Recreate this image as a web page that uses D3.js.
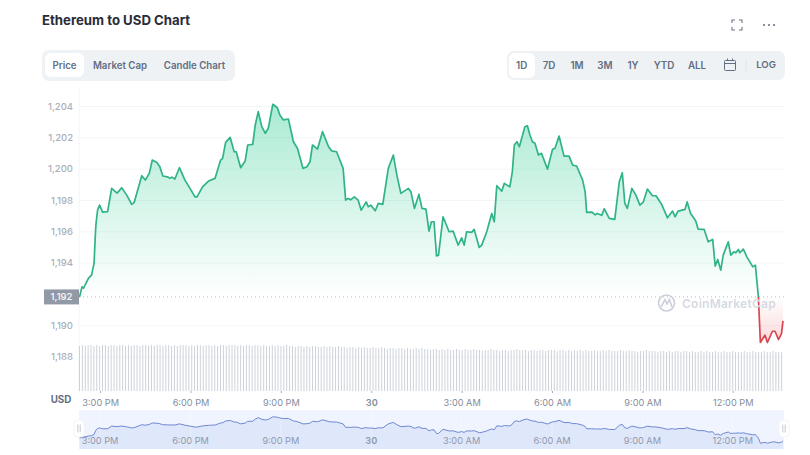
<!DOCTYPE html>
<html>
<head>
<meta charset="utf-8">
<title>Ethereum to USD Chart</title>
<script src="https://cdn.jsdelivr.net/npm/d3@7"></script>
<style>
  html, body { margin: 0; padding: 0; background: #fff; overflow: hidden; }
  svg { display: block; font-family: Inter, "Noto Sans", sans-serif; }
  .axis .domain { display: none; }
</style>
</head>
<body>
<svg id="chart" width="810" height="455"></svg>
<script>
// ── DATA ─────────────────────────────────────────────────────────────────────
const title = 'Ethereum to USD Chart';
const chartTabs = ['Price', 'Market Cap', 'Candle Chart'];
const rangeTabs = ['1D', '7D', '1M', '3M', '1Y', 'YTD', 'ALL'];

// minutes after 3:00 PM
const minutes = [
  -41,-36,-33,-23,-17,-12,-9,-8,-5,-1,5,15,23,34,43,53,63,68,83,90,98,104,113,119,125,134,139,143,149,158,
  169,179,189,193,204,216,229,240,244,250,259,267,271,280,289,294,304,309,315,322,329,335,344,353,358,365,375,385,393,404,
  412,418,423,433,443,455,461,471,484,489,494,499,506,514,520,530,534,539,548,554,563,574,584,591,599,614,619,626,635,641,
  649,655,660,665,670,674,683,695,703,713,720,725,730,740,745,755,760,770,780,785,790,800,805,816,821,825,830,835,846,851,
  856,861,866,873,879,891,901,906,914,924,934,941,949,961,966,969,979,986,990,999,1004,1014,1025,1034,1040,1045,1050,1059,1067,1075,
  1082,1090,1100,1107,1118,1130,1140,1145,1151,1165,1169,1176,1186,1191,1203,1211,1220,1225,1230,1236,1241,1251,1256,1262,1266,1271,1274,1281,1288,1300,
  1305,1311,1315,1324,1329,1339,1344,1351,1357,1360
];
const prices = [
  1191.81,1192.45,1192.37,1193.01,1193.20,1193.97,1196.08,1196.52,1197.35,1197.67,1197.23,1197.25,1198.74,1198.44,1198.78,1198.31,1197.72,1197.85,1199.55,1199.27,1199.70,1200.55,1200.40,1200.12,1199.53,1199.48,1199.38,1199.46,1199.34,1200.06,
  1199.27,1198.74,1198.20,1198.20,1198.84,1199.21,1199.38,1200.55,1200.66,1201.68,1202.00,1201.08,1201.08,1200.06,1200.49,1201.51,1201.55,1202.79,1203.64,1202.68,1202.26,1202.58,1204.11,1203.89,1203.42,1203.11,1203.17,1201.72,1201.30,1200.02,
  1200.12,1200.44,1201.51,1201.25,1202.36,1201.40,1201.14,1201.08,1200.02,1197.99,1198.10,1198.01,1198.20,1197.99,1197.35,1197.88,1197.57,1197.67,1197.31,1197.78,1197.72,1200.02,1200.87,1199.59,1198.42,1198.74,1198.52,1197.46,1198.36,1197.46,
  1197.42,1196.01,1196.61,1196.61,1194.43,1194.48,1196.93,1195.97,1196.01,1195.12,1195.58,1195.12,1195.97,1195.93,1196.12,1194.97,1195.12,1195.97,1197.14,1196.61,1198.91,1198.57,1199.06,1198.84,1199.80,1201.51,1201.72,1201.40,1202.68,1202.74,
  1202.15,1201.72,1201.62,1200.87,1200.98,1199.97,1201.23,1201.30,1202.08,1200.80,1200.80,1200.23,1200.17,1199.27,1198.52,1197.21,1197.23,1197.05,1197.14,1197.02,1197.44,1196.82,1196.76,1199.16,1199.74,1197.78,1197.46,1198.74,1198.31,1197.67,
  1197.88,1198.70,1198.27,1198.27,1197.74,1196.86,1197.29,1196.93,1197.29,1197.40,1197.88,1197.14,1196.67,1196.14,1196.12,1195.33,1195.48,1193.78,1194.20,1193.52,1194.48,1195.33,1194.48,1194.69,1194.63,1194.84,1194.63,1194.86,1194.37,1193.73,
  1193.84,1191.81,1188.90,1189.37,1188.90,1189.62,1189.62,1189.09,1189.47,1190.28
];
const openPrice = 1191.81;

// one bar per period, relative volume
const volumes = [
  45,46,45,46,46,45,46,45,46,46,45,46,46,45,46,46,45,46,45,46,46,45,46,46,45,
  46,45,46,46,45,46,46,45,46,45,46,46,46,45,46,45,46,46,45,46,46,45,46,45,46,
  46,45,46,46,46,45,46,45,46,46,45,46,46,45,46,45,45,46,45,46,45,45,46,45,45,
  44,45,45,44,45,44,45,45,44,44,45,44,45,44,44,45,44,44,43,44,44,43,44,43,44,
  43,43,44,43,43,44,43,42,43,43,42,43,43,42,43,42,42,43,42,43,42,42,41,42,42,
  41,42,41,42,41,41,42,41,41,42,41,41,42,41,41,40,41,41,42,41,41,40,41,41,40,
  41,41,42,41,41,41,40,41,41,40,41,41,40,41,41,41,40,41,41,40,41,40,41,40,41,
  40,41,40,40,41,40,40,41,40,41,40,40,40,41,40,40,41,40,40,39,40,40,41,40,40,
  40,39,40,40,39,40,39,40,40,39,40,40,39,40,39,39,40,39,40,39,39,40,39,39,40,
  39,39,40,39,39,39,40,39,39,40,39,39,39,40,39,39,40,39,39,39
];

const yTicks = [1188, 1190, 1194, 1196, 1198, 1200, 1202, 1204];
const xTickMinutes = [0, 180, 360, 540, 720, 900, 1080, 1260];
const xTickLabels = ['3:00 PM', '6:00 PM', '9:00 PM', '30', '3:00 AM', '6:00 AM', '9:00 AM', '12:00 PM'];

// ── SETUP ────────────────────────────────────────────────────────────────────
const svg = d3.select('#chart');
const defs = svg.append('defs');

const x = d3.scaleLinear().domain([-42, 1362]).range([79, 784]);
const y = d3.scaleLinear().domain([1188, 1204]).range([356.6, 106]);
const yVol = d3.scaleLinear().domain([0, 46]).range([391, 345]);
const yMini = d3.scaleLinear().domain([1189, 1204]).range([443, 417]);
const xVol = d3.scaleBand().domain(d3.range(volumes.length)).range([79, 784]);

const points = minutes.map((m, i) => ({ m, p: prices[i] }));
const baseY = y(openPrice);
const GREEN = '#16c784', LINE_GREEN = '#2fb387', RED = '#ea3943';

// ── GRADIENTS ────────────────────────────────────────────────────────────────
const gradArea = defs.append('linearGradient').attr('id', 'area-fill')
  .attr('gradientUnits', 'userSpaceOnUse')
  .attr('x1', 0).attr('x2', 0).attr('y1', y(1204)).attr('y2', y(1188.9));
const split = (baseY - y(1204)) / (y(1188.9) - y(1204));
gradArea.append('stop').attr('offset', 0).attr('stop-color', GREEN).attr('stop-opacity', 0.36);
gradArea.append('stop').attr('offset', split).attr('stop-color', GREEN).attr('stop-opacity', 0);
gradArea.append('stop').attr('offset', split).attr('stop-color', RED).attr('stop-opacity', 0);
gradArea.append('stop').attr('offset', 1).attr('stop-color', RED).attr('stop-opacity', 0.2);

const gradLine = defs.append('linearGradient').attr('id', 'line-stroke')
  .attr('gradientUnits', 'userSpaceOnUse')
  .attr('x1', 0).attr('x2', 0).attr('y1', y(1204)).attr('y2', y(1188.9));
gradLine.append('stop').attr('offset', split).attr('stop-color', LINE_GREEN);
gradLine.append('stop').attr('offset', split).attr('stop-color', '#d9454f');

// ── HEADER ───────────────────────────────────────────────────────────────────
svg.append('text').attr('x', 42).attr('y', 24.5)
  .attr('font-size', 13.2).attr('font-weight', 700).attr('fill', '#2a2d38').text(title);

// fullscreen + more icons
const fs = svg.append('g').attr('fill', 'none').attr('stroke', '#6d7789').attr('stroke-width', 1.1);
[[732, 20, 1, 1], [742, 20, -1, 1], [732, 30, 1, -1], [742, 30, -1, -1]].forEach(([cx, cy, dx, dy]) => {
  fs.append('path').attr('d', `M${cx},${cy + dy * 3}V${cy}H${cx + dx * 3}`);
});
[764, 769, 774].forEach(cx => {
  svg.append('circle').attr('cx', cx).attr('cy', 25).attr('r', 1.1).attr('fill', '#6d7789');
});

// chart type tabs
svg.append('rect').attr('x', 42).attr('y', 50).attr('width', 193).attr('height', 31).attr('rx', 7).attr('fill', '#eff2f5');
svg.append('rect').attr('x', 45).attr('y', 53).attr('width', 39).attr('height', 24).attr('rx', 6).attr('fill', '#fff');
const chartTabX = [64.5, 120, 194.5];
chartTabs.forEach((t, i) => {
  svg.append('text').attr('x', chartTabX[i]).attr('y', 69).attr('text-anchor', 'middle')
    .attr('font-size', 9.7).attr('font-weight', 600).attr('fill', '#626e83').text(t);
});

// range tabs
svg.append('rect').attr('x', 507).attr('y', 51).attr('width', 278).attr('height', 29).attr('rx', 7).attr('fill', '#eff2f5');
svg.append('rect').attr('x', 509).attr('y', 53).attr('width', 26).attr('height', 25).attr('rx', 6).attr('fill', '#fff');
const rangeTabX = [521.7, 549, 577, 605, 633, 664, 697];
rangeTabs.forEach((t, i) => {
  svg.append('text').attr('x', rangeTabX[i]).attr('y', 69).attr('text-anchor', 'middle')
    .attr('font-size', 9.8).attr('font-weight', 600).attr('fill', '#626e83').text(t);
});
const cal = svg.append('g').attr('fill', 'none').attr('stroke', '#626e83').attr('stroke-width', 1);
cal.append('rect').attr('x', 724.5).attr('y', 60.5).attr('width', 11).attr('height', 10).attr('rx', 1);
cal.append('path').attr('d', 'M724.5,63.5H735.5M727.5,58.5V60.5M732.5,58.5V60.5');
svg.append('line').attr('x1', 746).attr('x2', 746).attr('y1', 60).attr('y2', 71).attr('stroke', '#dfe3ea');
svg.append('text').attr('x', 766).attr('y', 68).attr('text-anchor', 'middle')
  .attr('font-size', 9.6).attr('font-weight', 600).attr('fill', '#626e83').text('LOG');

// ── GRID + Y AXIS ────────────────────────────────────────────────────────────
svg.append('line').attr('x1', 79).attr('x2', 79).attr('y1', 88).attr('y2', 392).attr('stroke', '#f3f4f7');
const gy = svg.append('g').attr('class', 'axis')
  .attr('transform', 'translate(79,0)')
  .call(d3.axisLeft(y).tickValues(yTicks).tickSize(-705).tickPadding(6).tickFormat(d3.format(',')));
gy.selectAll('.tick line').attr('stroke', '#f4f5f8');
gy.selectAll('.tick text').attr('font-size', 9.5).attr('font-weight', 500).attr('fill', '#aab0bc')
  .attr('font-family', 'Inter, "Noto Sans", sans-serif');

// ── VOLUME ───────────────────────────────────────────────────────────────────
svg.append('g').selectAll('rect').data(volumes).join('rect')
  .attr('x', (d, i) => xVol(i))
  .attr('y', d => yVol(d))
  .attr('width', 1)
  .attr('height', d => yVol(0) - yVol(d))
  .attr('fill', '#cdd2da');

// ── PRICE ────────────────────────────────────────────────────────────────────
svg.append('path').datum(points)
  .attr('fill', 'url(#area-fill)')
  .attr('d', d3.area().x(d => x(d.m)).y0(baseY).y1(d => y(d.p)));

svg.append('line').attr('x1', 79).attr('x2', 784).attr('y1', baseY).attr('y2', baseY)
  .attr('stroke', '#b4bac5').attr('stroke-width', 1).attr('stroke-dasharray', '1 3');

svg.append('path').datum(points)
  .attr('fill', 'none')
  .attr('stroke', 'url(#line-stroke)')
  .attr('stroke-width', 1.7)
  .attr('stroke-linejoin', 'round')
  .attr('d', d3.line().x(d => x(d.m)).y(d => y(d.p)));

// open price tag
svg.append('rect').attr('x', 44).attr('y', baseY - 7.5).attr('width', 35).attr('height', 15).attr('fill', '#9299a6');
svg.append('text').attr('x', 61.5).attr('y', baseY + 3.3).attr('text-anchor', 'middle')
  .attr('font-size', 9.4).attr('font-weight', 600).attr('fill', '#f1f2f5').text(d3.format(',')(1192));

// watermark
const wm = svg.append('g').attr('fill', 'none').attr('stroke', '#ccd0da').attr('stroke-width', 1.6);
wm.append('circle').attr('cx', 666.5).attr('cy', 303).attr('r', 8);
wm.append('path').attr('d', 'M661,307L665,299.5L667,304L669.5,299.5L672,307');
svg.append('text').attr('x', 682).attr('y', 307.5).attr('font-size', 12).attr('font-weight', 600)
  .attr('fill', '#d6dae1').attr('letter-spacing', 0.25).text('CoinMarketCap');

// ── X AXIS ───────────────────────────────────────────────────────────────────
svg.append('text').attr('x', 61).attr('y', 403).attr('text-anchor', 'middle')
  .attr('font-size', 9.8).attr('font-weight', 700).attr('fill', '#626e83').text('USD');

const xAxis = d3.axisBottom(x).tickValues(xTickMinutes).tickSize(2).tickPadding(6)
  .tickFormat((d, i) => xTickLabels[i]);
const gx = svg.append('g').attr('class', 'axis').attr('transform', 'translate(0,391)').call(xAxis);
gx.selectAll('.tick line').attr('stroke', '#a6adb9');
gx.selectAll('.tick text').attr('font-size', 9.2).attr('fill', '#858d9b')
  .attr('font-weight', d => d === 540 ? 600 : 400)
  .attr('font-family', 'Inter, "Noto Sans", sans-serif');

// ── MINIMAP ──────────────────────────────────────────────────────────────────
svg.append('rect').attr('x', 79).attr('y', 410).attr('width', 705).attr('height', 39).attr('fill', '#f0f4fe');
svg.append('path').datum(points)
  .attr('fill', '#dfe7fb')
  .attr('d', d3.area().x(d => x(d.m)).y0(449).y1(d => yMini(d.p)));
xTickMinutes.forEach(m => {
  svg.append('line').attr('x1', x(m)).attr('x2', x(m)).attr('y1', 410).attr('y2', 449)
    .attr('stroke', '#fff').attr('stroke-opacity', 0.35);
});
svg.append('path').datum(points)
  .attr('fill', 'none').attr('stroke', '#7088d0').attr('stroke-width', 1)
  .attr('d', d3.line().x(d => x(d.m)).y(d => yMini(d.p)));
xTickLabels.forEach((t, i) => {
  svg.append('text').attr('x', x(xTickMinutes[i])).attr('y', 443.5).attr('text-anchor', 'middle')
    .attr('font-size', 9.2).attr('fill', '#8f98ab')
    .attr('font-weight', i === 3 ? 600 : 400).text(t);
});
[79, 784].forEach(cx => {
  svg.append('rect').attr('x', cx - 5).attr('y', 420).attr('width', 10).attr('height', 17).attr('rx', 4)
    .attr('fill', '#fff').attr('stroke', '#f3f4f7');
  svg.append('path').attr('d', `M${cx - 1.2},424.5V432.5M${cx + 1.2},424.5V432.5`)
    .attr('stroke', '#b4bac5').attr('stroke-width', 0.8);
});
</script>
</body>
</html>
